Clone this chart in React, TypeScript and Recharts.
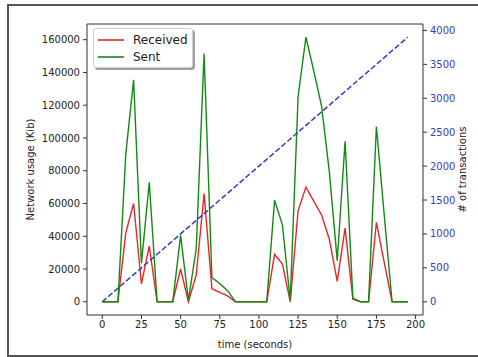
import React from 'react';
import { LineChart, Line, XAxis, YAxis, Legend } from 'recharts';

// time in seconds, sampled every 5 s
const times = [
  0, 5, 10, 15, 20, 25, 30, 35, 40, 45, 50, 55, 60, 65, 70, 75, 80, 85, 90, 95,
  100, 105, 110, 115, 120, 125, 130, 135, 140, 145, 150, 155, 160, 165, 170, 175, 180, 185, 190, 195,
];

// network usage (Kib)
const received = [
  0, 0, 0, 42000, 60000, 11000, 34000, 0, 0, 0, 20000, 0, 16500, 66000, 8000, 5800, 3600, 0, 0, 0,
  0, 0, 29000, 23000, 0, 55500, 70000, 61500, 53000, 38000, 12500, 45000, 1500, 0, 0, 48500, 24000, 0, 0, 0,
];
const sent = [
  0, 0, 0, 90000, 135500, 23500, 73000, 0, 0, 0, 40500, 800, 32500, 151500, 14800, 11200, 6800, 0, 0, 0,
  0, 0, 62000, 47000, 800, 125000, 161500, 141000, 119500, 79000, 25000, 98000, 2200, 0, 0, 107000, 53000, 0, 0, 0,
];

// number of transactions (right axis)
const transactions = [
  0, 100, 200, 300, 400, 500, 600, 700, 800, 900, 1000, 1100, 1200, 1300, 1400, 1500, 1600, 1700, 1800, 1900,
  2000, 2100, 2200, 2300, 2400, 2500, 2600, 2700, 2800, 2900, 3000, 3100, 3200, 3300, 3400, 3500, 3600, 3700, 3800, 3900,
];

const xTicks = [0, 25, 50, 75, 100, 125, 150, 175, 200];
const leftTicks = [0, 20000, 40000, 60000, 80000, 100000, 120000, 140000, 160000];
const rightTicks = [0, 500, 1000, 1500, 2000, 2500, 3000, 3500, 4000];

const data = times.map((t, i) => ({
  t,
  received: received[i],
  sent: sent[i],
  transactions: transactions[i],
}));

const FONT = '"DejaVu Sans", sans-serif';
const RED = '#e8262a';
const GREEN = '#128a12';
const BLUE = '#3a3ab8';

const legendItems = [
  { name: 'Received', color: RED },
  { name: 'Sent', color: GREEN },
];

function LegendBox() {
  return (
    <div
      style={{
        width: 100,
        height: 40,
        background: '#fff',
        border: '1px solid #cfcfcf',
        borderRadius: 3,
        boxShadow: '2px 2px 0 #a0a0a0',
        fontFamily: FONT,
        fontSize: 12,
        color: '#222',
        boxSizing: 'border-box',
        paddingTop: 2,
      }}
    >
      {legendItems.map((p) => (
        <div key={p.name} style={{ display: 'flex', alignItems: 'center', height: 17.5 }}>
          <svg width={26} height={4} style={{ marginLeft: 4, marginRight: 9, display: 'block' }}>
            <line x1={0} y1={2} x2={26} y2={2} stroke={p.color} strokeWidth={1.6} />
          </svg>
          <span>{p.name}</span>
        </div>
      ))}
    </div>
  );
}

export default function App() {
  return (
    <div style={{ position: 'absolute', left: 0, top: 0, width: 478, height: 357, overflow: 'hidden', background: '#fff' }}>
      <div
        style={{
          position: 'absolute',
          left: 7,
          top: 4,
          width: 500,
          height: 349,
          borderLeft: '2px solid #555',
          borderTop: '2px solid #555',
          borderBottom: '2px solid #555',
        }}
      />
      <LineChart
        width={478}
        height={357}
        data={data}
        margin={{ top: 23, right: 0, bottom: 0, left: 0 }}
        style={{ position: 'absolute', left: 0, top: 0 }}
      >
        <XAxis
          dataKey="t"
          type="number"
          domain={[-9.75, 204.75]}
          ticks={xTicks}
          allowDataOverflow
          height={42}
          tickSize={4}
          tickMargin={2}
          stroke="#333"
          tick={{ fill: '#222', fontSize: 10, fontFamily: FONT }}
          label={{ value: 'time (seconds)', position: 'insideBottom', offset: 9, fill: '#222', fontSize: 10, fontFamily: FONT }}
        />
        <XAxis
          xAxisId="top"
          dataKey="t"
          type="number"
          domain={[-9.75, 204.75]}
          orientation="top"
          height={1}
          tick={false}
          tickLine={false}
          stroke="#333"
        />
        <YAxis
          yAxisId="left"
          type="number"
          domain={[-8075, 169575]}
          ticks={leftTicks}
          allowDataOverflow
          width={87}
          tickSize={4}
          tickMargin={3}
          stroke="#333"
          tick={{ fill: '#222', fontSize: 10, fontFamily: FONT }}
          label={{ value: 'Network usage (Kib)', angle: -90, position: 'center', dx: -13, fill: '#222', fontSize: 10, fontFamily: FONT }}
        />
        <YAxis
          yAxisId="right"
          orientation="right"
          type="number"
          domain={[-195, 4095]}
          ticks={rightTicks}
          allowDataOverflow
          width={55}
          tickSize={4}
          tickMargin={3}
          stroke="#333"
          tick={{ fill: BLUE, fontSize: 10, fontFamily: FONT, textAnchor: 'start' }}
          label={{ value: '# of transactions', angle: -90, position: 'center', dx: 12, fill: '#222', fontSize: 10, fontFamily: FONT }}
        />
        <Legend
          content={<LegendBox />}
          layout="horizontal"
          verticalAlign="middle"
          align="center"
          wrapperStyle={{ left: 93, top: 28, width: 100, height: 40 }}
        />
        <Line xAxisId={0} yAxisId="left" dataKey="received" name="Received" stroke={RED} strokeWidth={1.4} dot={false} isAnimationActive={false} />
        <Line xAxisId={0} yAxisId="left" dataKey="sent" name="Sent" stroke={GREEN} strokeWidth={1.4} dot={false} isAnimationActive={false} />
        <Line
          xAxisId={0}
          yAxisId="right"
          dataKey="transactions"
          name="transactions"
          stroke={BLUE}
          strokeWidth={1.5}
          strokeDasharray="5.5 2.4"
          dot={false}
          legendType="none"
          isAnimationActive={false}
        />
      </LineChart>
    </div>
  );
}
